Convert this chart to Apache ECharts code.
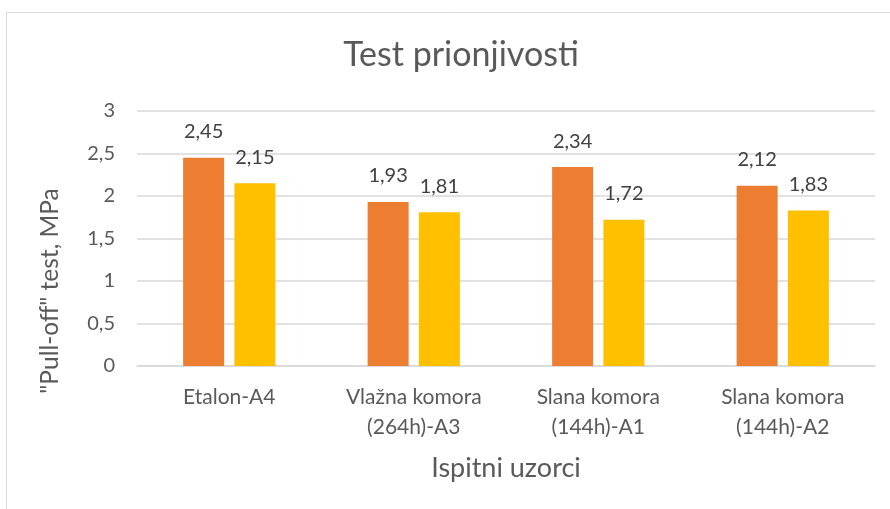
<!DOCTYPE html>
<html>
<head>
<meta charset="utf-8">
<script src="https://cdn.jsdelivr.net/npm/echarts@6/dist/echarts.min.js"></script>
<style>
  html, body { margin: 0; padding: 0; background: #fff; }
  #chart { width: 890px; height: 509px; }
</style>
</head>
<body>
<div id="chart"></div>
<script>
// Sample groups and measured pull-off strengths (MPa)
const categories = ['Etalon-A4', 'Vlažna komora\n(264h)-A3', 'Slana komora\n(144h)-A1', 'Slana komora\n(144h)-A2'];
const seriesA = [2.45, 1.93, 2.34, 2.12];
const seriesB = [2.15, 1.81, 1.72, 1.83];
const yTicks = [0, 0.5, 1, 1.5, 2, 2.5, 3];

const fontFamily = 'Lato, "Open Sans", sans-serif';
const fmt = v => String(v).replace('.', ',');

const chart = echarts.init(document.getElementById('chart'));
chart.setOption({
  animation: false,
  backgroundColor: '#ffffff',
  graphic: [
    {
      type: 'rect',
      shape: { x: 6.5, y: 12.5, width: 900, height: 520 },
      style: { fill: 'none', stroke: '#d9d9d9', lineWidth: 1 },
      silent: true
    },
    {
      // vertical axis title
      type: 'text',
      x: 50,
      y: 291,
      rotation: Math.PI / 2,
      style: {
        text: '"Pull-off" test, MPa',
        fontFamily, fontSize: 24.5, fill: '#595959',
        align: 'center', verticalAlign: 'middle'
      },
      silent: true
    }
  ],
  title: {
    text: 'Test prionjivosti',
    left: 456,
    textAlign: 'center',
    top: 33,
    textStyle: { fontFamily, fontSize: 34, fontWeight: 'normal', color: '#595959' }
  },
  grid: { left: 137, right: 15, top: 111, bottom: 143 },
  xAxis: {
    type: 'category',
    data: categories,
    axisLine: { lineStyle: { color: '#d9d9d9', width: 1.5 } },
    axisTick: { show: false },
    axisLabel: { fontFamily, fontSize: 21, color: '#595959', lineHeight: 30, margin: 16 },
    name: 'Ispitni uzorci',
    nameLocation: 'middle',
    nameGap: 89,
    nameTextStyle: { fontFamily, fontSize: 27, color: '#595959' }
  },
  yAxis: {
    type: 'value',
    min: yTicks[0],
    max: yTicks[yTicks.length - 1],
    interval: 0.5,
    axisLine: { show: false },
    axisTick: { show: false },
    splitLine: { lineStyle: { color: '#d9d9d9', width: 1.5 } },
    axisLabel: { fontFamily, fontSize: 20, color: '#595959', margin: 22, formatter: fmt }
  },
  series: [
    {
      type: 'bar',
      data: seriesA,
      barWidth: 41,
      barGap: '25%',
      itemStyle: { color: '#ED7D31' },
      label: { show: true, position: 'top', distance: 16, fontFamily, fontSize: 20, color: '#404040', formatter: p => fmt(p.value) }
    },
    {
      type: 'bar',
      data: seriesB,
      barWidth: 41,
      itemStyle: { color: '#FFC000' },
      label: { show: true, position: 'top', distance: 16, fontFamily, fontSize: 20, color: '#404040', formatter: p => fmt(p.value) }
    }
  ]
});
</script>
</body>
</html>
